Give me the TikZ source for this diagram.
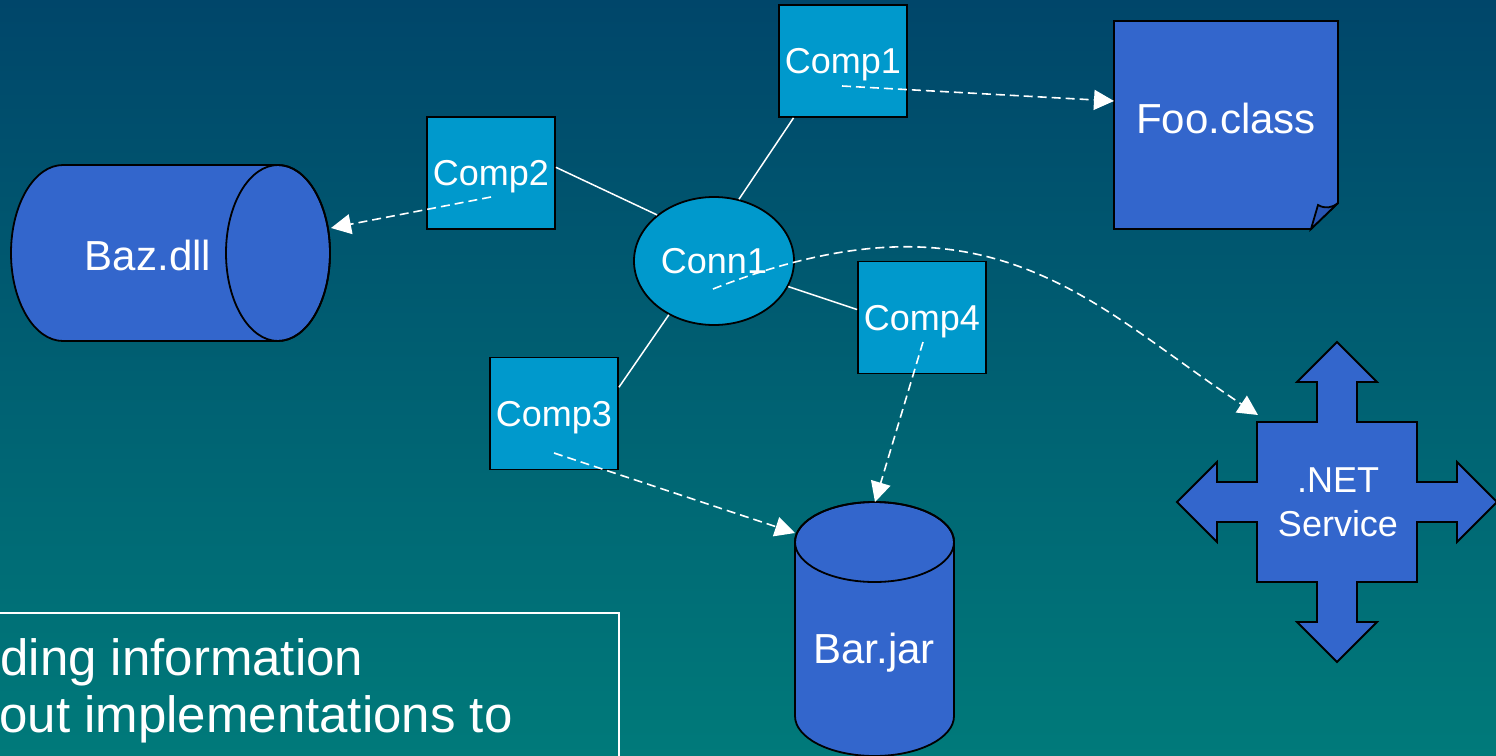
\documentclass[tikz,border=0pt]{standalone}
\usepackage{fontspec}
\setmainfont{Liberation Sans}
\usetikzlibrary{shapes.geometric,arrows.meta}
\definecolor{bgtop}{RGB}{0,70,106}
\definecolor{bgbot}{RGB}{0,122,122}
\definecolor{compfill}{RGB}{0,153,204}
\definecolor{filefill}{RGB}{51,102,204}
\definecolor{foldfill}{RGB}{40,85,180}
\tikzset{
  outline/.style={draw=black, line width=0.9pt},
  compbox/.style={outline, fill=compfill, rectangle, minimum width=64pt,
    minimum height=56pt, inner sep=0pt, text=white, text depth=0pt,
    font=\fontsize{18}{21.6}\selectfont},
  connoval/.style={outline, fill=compfill, ellipse, minimum width=80pt,
    minimum height=64pt, inner sep=0pt, text=white, text depth=0pt,
    font=\fontsize{18}{21.6}\selectfont},
  bigtext/.style={text=white, inner sep=0pt, text depth=0pt,
    font=\fontsize{21}{25}\selectfont},
  smalltext/.style={text=white, inner sep=0pt, align=center,
    font=\fontsize{18}{22}\selectfont},
  notetext/.style={text=white, inner sep=0pt, anchor=base west,
    font=\fontsize{25.5}{28.5}\selectfont},
  link/.style={draw=white, line width=0.75pt},
  dep/.style={draw=white, line width=0.8pt, dash pattern=on 4.5pt off 2.5pt,
    -{Triangle[length=10pt,width=10pt]}},
}
\begin{document}
\begin{tikzpicture}[x=0.5pt, y=-0.5pt]
\useasboundingbox (0,0) rectangle (1496,756);
\clip (0,0) rectangle (1496,756);
\shade[top color=bgtop, bottom color=bgbot] (0,0) rectangle (1496,756);

% note frame in the lower left corner
\draw[white, line width=0.75pt] (-10,613) rectangle (619,780);
\node[notetext] (note1) at (0,675) {ding information};
\node[notetext] (note2) at (-1,732) {out implementations to};

% Baz.dll: horizontal cylinder
\path[outline, fill=filefill] (63,165) -- (278,165)
  arc[start angle=90, end angle=-90, x radius=26pt, y radius=44pt]
  -- (63,341)
  arc[start angle=270, end angle=90, x radius=26pt, y radius=44pt] -- cycle;
\draw[outline] (278,253) ellipse [x radius=26pt, y radius=44pt];
\node[bigtext] (baz) at (148,255) {Baz.dll};

% Bar.jar: upright cylinder
\path[outline, fill=filefill] (795,542) -- (795,716)
  arc[start angle=180, end angle=360, x radius=39.75pt, y radius=20pt]
  -- (954,542)
  arc[start angle=0, end angle=180, x radius=39.75pt, y radius=20pt] -- cycle;
\draw[outline] (874.5,542) ellipse [x radius=39.75pt, y radius=20pt];
\node[bigtext] (bar) at (874,648) {Bar.jar};

% Foo.class: sheet with a folded corner
\path[outline, fill=filefill] (1114,21) -- (1338,21) -- (1338,203)
  -- (1311,229) -- (1114,229) -- cycle;
\path[outline, fill=foldfill] (1311,229) -- (1318,205)
  .. controls (1325,209) and (1332,208) .. (1338,203) -- cycle;
\node[bigtext] (foo) at (1226,118) {Foo.class};

% .NET Service: four-way arrow
\path[outline, fill=filefill, shift={(1337,502)}]
  (0,-160) -- (40,-120) -- (20,-120) -- (20,-80) -- (80,-80) -- (80,-20)
  -- (120,-20) -- (120,-40) -- (160,0) -- (120,40) -- (120,20) -- (80,20)
  -- (80,80) -- (20,80) -- (20,120) -- (40,120) -- (0,160) -- (-40,120)
  -- (-20,120) -- (-20,80) -- (-80,80) -- (-80,20) -- (-120,20) -- (-120,40)
  -- (-160,0) -- (-120,-40) -- (-120,-20) -- (-80,-20) -- (-80,-80)
  -- (-20,-80) -- (-20,-120) -- (-40,-120) -- cycle;
\node[smalltext] (net) at (1338,502) {.NET\\Service};

% components and the connector
\node[compbox] (comp1) at (843,61) {Comp1};
\node[compbox] (comp2) at (491,173) {Comp2};
\node[compbox] (comp3) at (554,413.5) {Comp3};
\node[compbox] (comp4) at (922,317.5) {Comp4};
\node[connoval] (conn1) at (714,261) {Conn1};

% wiring between the connector and the components
\draw[link] (comp1.229) -- (conn1.68);
\draw[link] (comp2.5) -- (conn1.141);
\draw[link] (conn1.341) -- (comp4.173);
\draw[link] (conn1.230) -- (comp3.22);

% dependency ends
\coordinate (c1s) at (842,86);
\coordinate (c2s) at (491,197);
\coordinate (c3s) at (554,453);
\coordinate (c4s) at (923,342);
\coordinate (c5s) at (713,289);
\coordinate (foo-in) at (1114,101);
\coordinate (baz-in) at (331,228);
\coordinate (bar-in1) at (795,533);
\coordinate (bar-in2) at (875,502);
\coordinate (net-in) at (1258,415);

% dependencies
\draw[dep] (c1s) -- (foo-in);
\draw[dep] (c2s) -- (baz-in);
\draw[dep] (c3s) -- (bar-in1);
\draw[dep] (c4s) -- (bar-in2);
\draw[dep] (c5s) .. controls (990,180) and (1091,305) .. (net-in);
\end{tikzpicture}
\end{document}
